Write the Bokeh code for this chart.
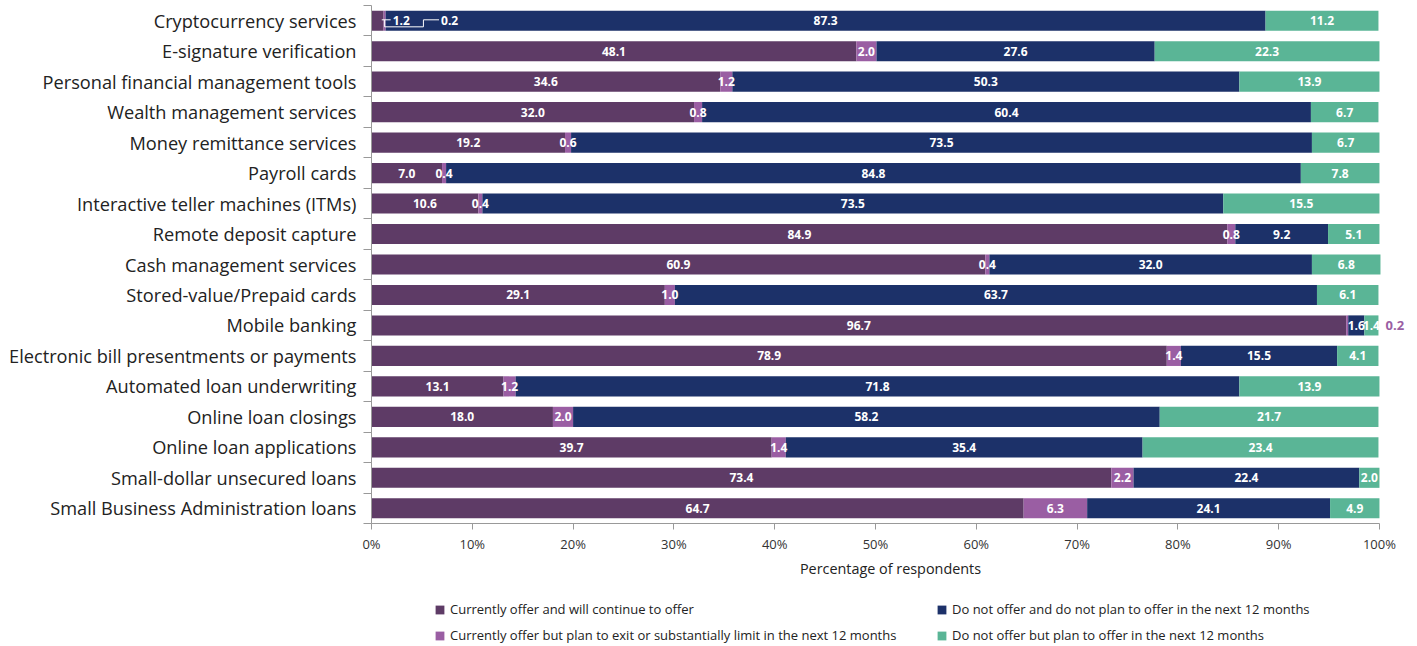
from bokeh.plotting import figure
from bokeh.layouts import column
from bokeh.models import FixedTicker, Legend, LegendItem, Range1d, ColumnDataSource
from bokeh.embed import file_html
from bokeh.resources import INLINE
from bokeh.core.properties import value

categories = [
    "Cryptocurrency services",
    "E-signature verification",
    "Personal financial management tools",
    "Wealth management services",
    "Money remittance services",
    "Payroll cards",
    "Interactive teller machines (ITMs)",
    "Remote deposit capture",
    "Cash management services",
    "Stored-value/Prepaid cards",
    "Mobile banking",
    "Electronic bill presentments or payments",
    "Automated loan underwriting",
    "Online loan closings",
    "Online loan applications",
    "Small-dollar unsecured loans",
    "Small Business Administration loans",
]
offer_continue = [1.2, 48.1, 34.6, 32.0, 19.2, 7.0, 10.6, 84.9, 60.9, 29.1, 96.7, 78.9, 13.1, 18.0, 39.7, 73.4, 64.7]
offer_exit = [0.2, 2.0, 1.2, 0.8, 0.6, 0.4, 0.4, 0.8, 0.4, 1.0, 0.2, 1.4, 1.2, 2.0, 1.4, 2.2, 6.3]
not_offer = [87.3, 27.6, 50.3, 60.4, 73.5, 84.8, 73.5, 9.2, 32.0, 63.7, 1.6, 15.5, 71.8, 58.2, 35.4, 22.4, 24.1]
plan_offer = [11.2, 22.3, 13.9, 6.7, 6.7, 7.8, 15.5, 5.1, 6.8, 6.1, 1.4, 4.1, 13.9, 21.7, 23.4, 2.0, 4.9]

series_names = [
    "Currently offer and will continue to offer",
    "Currently offer but plan to exit or substantially limit in the next 12 months",
    "Do not offer and do not plan to offer in the next 12 months",
    "Do not offer but plan to offer in the next 12 months",
]
colors = ["#5e3b66", "#9a5ea3", "#1c3169", "#5ab596"]
x_ticks = [0, 10, 20, 30, 40, 50, 60, 70, 80, 90, 100]
x_tick_labels = ["0%", "10%", "20%", "30%", "40%", "50%", "60%", "70%", "80%", "90%", "100%"]
x_title = "Percentage of respondents"

FONT = "Open Sans"
series = [offer_continue, offer_exit, not_offer, plan_offer]
n = len(categories)
ys = [n - 1 - i for i in range(n)]

W = 1409
p = figure(width=W, height=592, x_range=Range1d(0, 102.98), y_range=Range1d(-0.5, n - 0.5),
           output_backend="svg", toolbar_location=None,
           min_border_left=371, min_border_right=0, min_border_top=5, min_border_bottom=69)
p.outline_line_color = None
p.grid.visible = False

renderers = []
lefts = [0.0] * n
segs = []
for k, vals in enumerate(series):
    rights = [l + v for l, v in zip(lefts, vals)]
    src = ColumnDataSource(dict(y=ys, left=lefts, right=rights))
    r = p.hbar(y="y", left="left", right="right", height=0.66, source=src,
               fill_color=colors[k], line_color=None)
    renderers.append(r)
    for i in range(n):
        segs.append((k, i, lefts[i], vals[i]))
    lefts = rights

# segment labels
crypto = 0
mobile = categories.index("Mobile banking")
label_x, label_y, label_t = [], [], []
out_x, out_y, out_t = [], [], []
lead_x, lead_y, lead_t = [], [], []
lines_xs, lines_ys = [], []
for (k, i, left, v) in segs:
    txt = f"{v:.1f}"
    c = ys[i]
    if i == crypto and k in (0, 1):
        if k == 0:
            lines_xs.append([left + v * 0.85, left + v + 0.7])
            lines_ys.append([c + 0.03, c + 0.03])
            lead_x.append(left + v + 0.9)
        else:
            lines_xs.append([left + 0.1, left + 0.1, 5.15, 5.15, 6.7])
            lines_ys.append([c + 0.03, c - 0.2, c - 0.2, c + 0.03, c + 0.03])
            lead_x.append(6.9)
        lead_y.append(c)
        lead_t.append(txt)
    elif i == mobile and k == 1:
        out_x.append(100.6)
        out_y.append(c)
        out_t.append(txt)
    else:
        label_x.append(left + v / 2)
        label_y.append(c)
        label_t.append(txt)

p.multi_line(xs=lines_xs, ys=lines_ys, line_color="white", line_width=1)
common = dict(text_font=value(FONT), text_font_style="bold", text_font_size="12px", text_baseline="middle")
p.text(x=label_x, y=label_y, text=label_t, text_color="white", text_align="center", **common)
p.text(x=lead_x, y=lead_y, text=lead_t, text_color="white", text_align="left", **common)
p.text(x=out_x, y=out_y, text=out_t, text_color=colors[1], text_align="left",
       text_font=value(FONT), text_font_style="bold", text_font_size="13px", text_baseline="middle")

# x axis
xa = p.xaxis[0]
xa.bounds = (0, 100)
xa.ticker = FixedTicker(ticks=x_ticks, minor_ticks=[])
xa.major_label_overrides = {t: l for t, l in zip(x_ticks, x_tick_labels)}
xa.axis_line_color = "#999999"
xa.major_tick_line_color = "#999999"
xa.major_tick_in = 0
xa.major_tick_out = 6
xa.minor_tick_line_color = None
xa.major_label_text_font = FONT
xa.major_label_text_font_size = "13px"
xa.major_label_text_color = "#333333"
xa.major_label_standoff = 5
xa.axis_label = x_title
xa.axis_label_text_font = FONT
xa.axis_label_text_font_size = "14.4px"
xa.axis_label_text_font_style = "normal"
xa.axis_label_text_color = "#222222"
xa.axis_label_standoff = 3

# y axis
ya = p.yaxis[0]
boundaries = [y + 0.5 for y in ys] + [-0.5]
ya.ticker = FixedTicker(ticks=ys, minor_ticks=boundaries)
ya.major_label_overrides = {y: c for y, c in zip(ys, categories)}
ya.axis_line_color = "#999999"
ya.major_tick_line_color = None
ya.major_tick_in = 0
ya.major_tick_out = 0
ya.minor_tick_line_color = "#999999"
ya.minor_tick_in = 0
ya.minor_tick_out = 8
ya.major_label_text_font = FONT
ya.major_label_text_font_size = "18.2px"
ya.major_label_text_color = "#222222"
ya.major_label_standoff = 7

# legend figure (frame aligned with the chart frame by the column layout)
lg = figure(width=W, height=54, x_range=Range1d(0, 1), y_range=Range1d(0, 1),
            output_backend="svg", toolbar_location=None, x_axis_location=None, y_axis_location=None,
            min_border_left=371, min_border_right=0, min_border_top=0, min_border_bottom=0)
lg.outline_line_color = None
lg.grid.visible = False
swatches = [lg.hbar(y=[5], left=[5], right=[6], height=1, fill_color=colors[j], line_color=None)
            for j in range(len(series_names))]

def make_legend(idx, x):
    leg = Legend(items=[LegendItem(label=series_names[j], renderers=[swatches[j]]) for j in idx],
                 location=(x, 2), orientation="vertical")
    leg.border_line_color = None
    leg.background_fill_alpha = 0
    leg.padding = 0
    leg.margin = 0
    leg.spacing = 8
    leg.glyph_width = 11
    leg.glyph_height = 11
    leg.label_height = 16
    leg.label_standoff = 5
    leg.label_text_font = FONT
    leg.label_text_font_size = "13px"
    leg.label_text_color = "#222222"
    leg.label_text_baseline = "middle"
    return leg

lg.add_layout(make_legend([0, 1], 63))
lg.add_layout(make_legend([2, 3], 565))

layout = column(p, lg, spacing=0)
open("out.html", "w").write(file_html(layout, INLINE))
